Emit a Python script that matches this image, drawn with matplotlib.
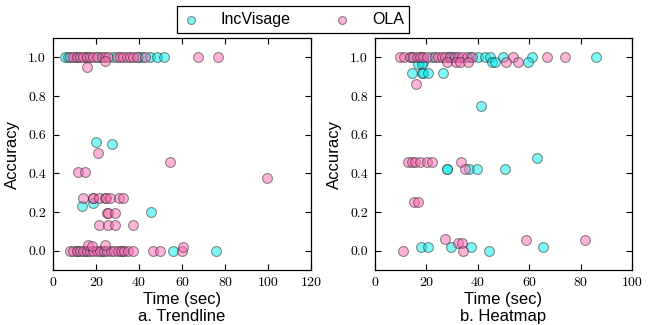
import numpy as np
import matplotlib
matplotlib.use("Agg")
import matplotlib.pyplot as plt

# a. Trendline
trend_inc_x = [5.6, 7.1, 10.5, 15.2, 21, 28, 39.7, 41.2, 45.1, 48.2, 51.6,
               20, 27.6, 13.6, 18.7, 45.6,
               11, 14.9, 22.6, 31.9, 56, 76]
trend_inc_y = [1.0, 1.0, 1.0, 1.0, 1.0, 1.0, 1.0, 1.0, 1.0, 1.0, 1.0,
               0.56, 0.55, 0.23, 0.245, 0.20,
               0.0, 0.0, 0.0, 0.0, 0.0, 0.0]
trend_ola_x = [7.9, 9.4, 11, 12.6, 14.1, 15.7, 17.2, 18.8, 20.3, 22.6, 24.2, 25.7,
               29.6, 31.2, 32.7, 34.3, 35.8, 37.4, 38.9, 42.8, 67.3, 76.9, 16, 24,
               21, 54.4, 11.5, 15,
               13.8, 18.5, 18.8, 21.5, 24.2, 24.6, 26.5, 30.8, 32.7,
               25.3, 25.6, 28.8,
               21.5, 25.7, 28.8, 37.3, 99.7,
               7.9, 9.4, 11, 12.6, 14.1, 15.7, 17.2, 18.8, 20.3, 22, 23.6, 25.2,
               26.8, 28.4, 30, 31.6, 33.2, 34.8, 37.4, 46.7, 49.8, 60.2,
               16.4, 18, 24.2, 60.6]
trend_ola_y = [1.0] * 22 + [0.952, 0.98,
               0.506, 0.46, 0.405, 0.405] + [0.274] * 9 + [0.196] * 3 + \
              [0.134] * 4 + [0.374] + [0.0] * 22 + [0.03, 0.025, 0.03, 0.02]

# b. Heatmap
heat_inc_x = [14, 18, 22, 28.5, 30, 37, 40, 42.8, 44.7, 49.9, 61.2, 85.9,
              18.8, 45.4, 46.7, 59.7, 16.6, 18.2,
              14.3, 18.2, 18.8, 20.7, 26.3,
              41.2, 62.9,
              27.9, 28.1, 36.7, 39.6, 50.6,
              17.8, 20.8, 29.4, 37.4, 65.2, 44.4]
heat_inc_y = [1.0] * 12 + [0.976] * 4 + [0.967] * 2 + [0.92] * 5 + \
             [0.747, 0.48] + [0.42] * 5 + [0.018] * 5 + [0.0]
heat_ola_x = [9.7, 11.4, 13.6, 14.9, 16.2, 17.5, 18.8, 20.1, 23.3, 24.6, 25.9,
              27.2, 29.2, 31.1, 32.4, 34, 35.7, 37.6, 53.8, 66.8, 73.9,
              27.9, 31.7, 33, 36.1, 51, 55.8,
              16,
              13, 14.3, 15.6, 17.5, 20.1, 22.3, 33.5,
              35, 15.3, 16.9,
              11, 27.2, 32.2, 33.8, 34.1, 58.8, 81.7]
heat_ola_y = [1.0] * 21 + [0.976] * 6 + [0.864] + [0.46] * 7 + \
             [0.42, 0.253, 0.253,
              0.0, 0.059, 0.038, 0.038, 0.0, 0.055, 0.055]

series_names = ["IncVisage", "OLA"]
inc_color = "#00f0f0"
ola_color = "#ff69b4"
sans = ["Liberation Sans", "DejaVu Sans"]

fig = plt.figure(figsize=(6.5, 3.25), dpi=100)
ax1 = fig.add_axes([53 / 650, 1 - 270 / 325, 258 / 650, 232 / 325])
ax2 = fig.add_axes([375 / 650, 1 - 270 / 325, 257 / 650, 232 / 325])

panels = [
    (ax1, trend_inc_x, trend_inc_y, trend_ola_x, trend_ola_y, 120, "a. Trendline"),
    (ax2, heat_inc_x, heat_inc_y, heat_ola_x, heat_ola_y, 100, "b. Heatmap"),
]

for ax, ix, iy, ox, oy, xmax, sub in panels:
    ax.scatter(ix, iy, s=50, c=inc_color, alpha=0.5, edgecolors="#202020", linewidths=0.8,
               label=series_names[0])
    ax.scatter(ox, oy, s=50, c=ola_color, alpha=0.5, edgecolors="#202020", linewidths=0.8,
               label=series_names[1])
    ax.set_xlim(0, xmax)
    ax.set_ylim(-0.1, 1.1)
    xt = np.arange(0, xmax + 1, 20)
    yt = np.arange(0, 1.01, 0.2)
    ax.set_xticks(xt)
    ax.set_yticks(yt)
    ax.set_xticklabels(["%d" % v for v in xt], fontfamily="cmr10", fontsize=10)
    ax.set_yticklabels(["%.1f" % v for v in yt], fontfamily="cmr10", fontsize=10)
    ax.tick_params(direction="in", top=True, right=True, length=4, width=0.8, pad=5)
    for sp in ax.spines.values():
        sp.set_linewidth(0.9)
    ax.set_xlabel("Time (sec)\n" + sub, fontfamily=sans, fontsize=12,
                  linespacing=1.15, labelpad=2)
    ax.set_ylabel("Accuracy", fontfamily=sans, fontsize=12, labelpad=6)

handles, labels = ax1.get_legend_handles_labels()
leg = fig.legend(handles, labels, loc="center", bbox_to_anchor=(293 / 650, 1 - 19.5 / 325),
                 ncol=2, frameon=True, fancybox=False, edgecolor="k", framealpha=1,
                 prop={"family": sans, "size": 11.5}, markerscale=0.8,
                 handletextpad=1.3, columnspacing=2.7, borderpad=0.35,
                 handlelength=1.1, borderaxespad=0)
leg.get_frame().set_linewidth(0.9)

fig.savefig("out.png", dpi=100)
